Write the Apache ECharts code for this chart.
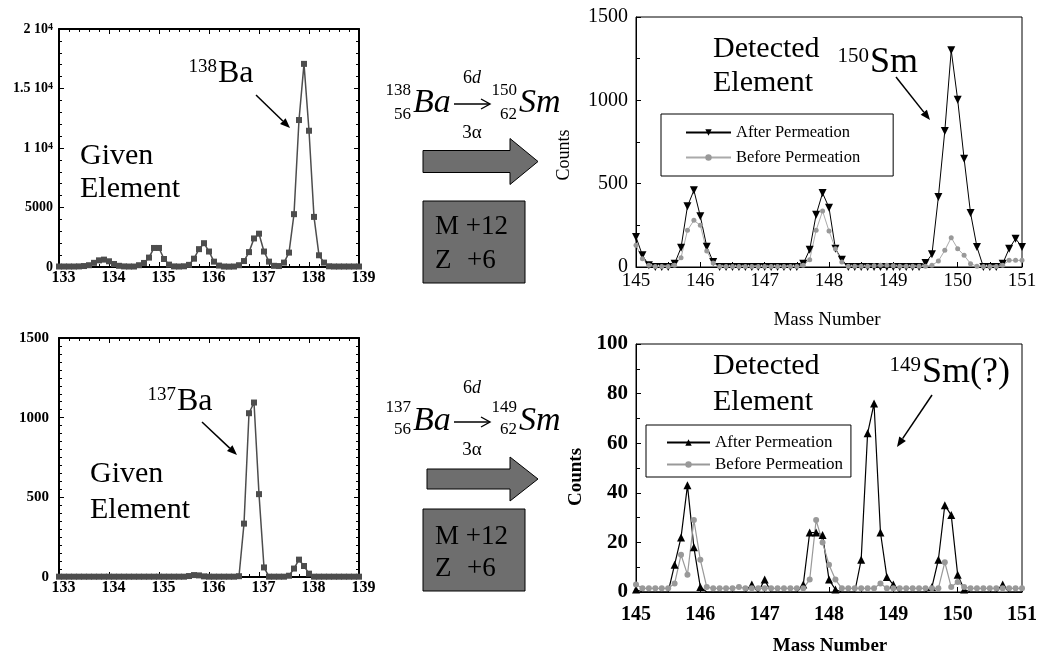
<!DOCTYPE html>
<html>
<head>
<meta charset="utf-8">
<script src="https://cdn.jsdelivr.net/npm/echarts@6/dist/echarts.min.js"></script>
<style>
  html, body { margin: 0; padding: 0; background: #fff; }
  #main { width: 1038px; height: 655px; }
</style>
</head>
<body>
<div id="main"></div>
<script>
// mass axis samples (0.1 u steps)
var massLeft = [133.0,133.1,133.2,133.3,133.4,133.5,133.6,133.7,133.8,133.9,134.0,134.1,134.2,134.3,134.4,134.5,134.6,134.7,134.8,134.9,
  135.0,135.1,135.2,135.3,135.4,135.5,135.6,135.7,135.8,135.9,136.0,136.1,136.2,136.3,136.4,136.5,136.6,136.7,136.8,136.9,
  137.0,137.1,137.2,137.3,137.4,137.5,137.6,137.7,137.8,137.9,138.0,138.1,138.2,138.3,138.4,138.5,138.6,138.7,138.8,138.9,139.0];
var massRight = [145.0,145.1,145.2,145.3,145.4,145.5,145.6,145.7,145.8,145.9,146.0,146.1,146.2,146.3,146.4,146.5,146.6,146.7,146.8,146.9,
  147.0,147.1,147.2,147.3,147.4,147.5,147.6,147.7,147.8,147.9,148.0,148.1,148.2,148.3,148.4,148.5,148.6,148.7,148.8,148.9,
  149.0,149.1,149.2,149.3,149.4,149.5,149.6,149.7,149.8,149.9,150.0,150.1,150.2,150.3,150.4,150.5,150.6,150.7,150.8,150.9,151.0];

// 138Ba (top left)
var counts138 = [40,40,40,40,50,80,150,350,560,620, 480,250,100,50,40,40,150,340,790,1600,
  1600,670,200,50,40,60,180,700,1500,2000, 1300,450,120,40,30,40,150,500,1250,2400,
  2800,1300,450,100,80,370,1210,4440,12350,17070, 11450,4210,985,370,60,40,40,40,40,40, 40];
// 137Ba (bottom left)
var counts137 = [2,2,2,2,2,2,2,2,2,2, 2,2,2,2,2,2,2,2,2,2,
  2,2,2,2,2,2,6,12,10,4, 2,2,2,2,2,2,5,335,1028,1095,
  520,60,2,2,2,2,8,53,109,69, 21,2,2,2,2,2,2,2,2,2, 2];
// 150Sm (top right)
var after150 = [180,70,10,0,0,0,20,116,364,460, 304,122,30,0,0,0,0,0,0,0,
  0,0,0,0,0,0,20,104,314,444, 356,110,44,0,0,0,0,0,0,0,
  0,0,0,0,0,24,76,420,816,1300, 1004,650,324,120,0,0,0,20,110,170, 120];
var before150 = [130,50,10,3,3,3,10,56,220,280, 250,96,24,3,3,3,3,3,3,3,
  3,3,3,3,3,3,10,44,220,336, 216,110,30,5,5,5,5,8,10,10,
  8,5,5,5,5,5,10,36,100,176, 110,70,20,5,3,3,3,10,40,40, 40];
// 149Sm (bottom right)
var after149 = [1,0,0,0,0,0,11,22,43,18, 2,0,0,0,0,0,0,0,3,0,
  5,0,0,0,0,0,3,24,24,23, 5,1,0,0,0,13,64,76,24,6,
  3,0,0,0,0,0,2,13,35,31, 7,1,0,0,0,0,0,3,0,0, 0];
var before149 = [3,1.5,1.5,1.5,1.5,1.5,3.4,15,7,29, 13,2,1.5,1.5,1.5,1.5,2,1.5,1.5,1.5,
  1.5,1.5,1.5,1.5,1.5,1.5,1.5,5,29,20, 11,5,1.5,1.5,1.5,1.5,1.5,1.5,3.4,1.5,
  1.5,1.5,1.5,1.5,1.5,1.5,1.5,1.5,12,2, 4,2,1.5,1.5,1.5,1.5,1.5,1.5,1.5,1.5, 1.5];

var yLabels138 = ['0', '5000', '1 10{s|4}', '1.5 10{s|4}', '2 10{s|4}'];
var legendNames = ['After Permeation', 'Before Permeation'];

var serif = "'Liberation Serif', 'Times New Roman', serif";

function pairs(xs, ys) {
    return xs.map(function (x, i) { return [x, ys[i]]; });
}

function plain(v) { return String(v); }

function leftX(grid, pos, showLabel) {
    return {
        gridIndex: grid, type: 'value', position: pos, min: 133, max: 139, interval: 1,
        axisLine: {show: true, onZero: false, lineStyle: {color: '#000', width: 2}},
        axisTick: {inside: true, length: 5, lineStyle: {color: '#000'}},
        minorTick: {show: true, splitNumber: 5, length: 3, lineStyle: {color: '#000'}},
        splitLine: {show: false},
        axisLabel: {show: showLabel, fontFamily: serif, fontWeight: 'bold', fontSize: 16, color: '#000',
            margin: 3, padding: [0, 0, 0, 9], formatter: plain}
    };
}

function leftY(grid, pos, max, step, minor, showLabel, fmt, size, margin) {
    return {
        gridIndex: grid, type: 'value', position: pos, min: 0, max: max, interval: step,
        axisLine: {show: true, onZero: false, lineStyle: {color: '#000', width: 2}},
        axisTick: {inside: true, length: 5, lineStyle: {color: '#000'}},
        minorTick: {show: true, splitNumber: minor, length: 3, lineStyle: {color: '#000'}},
        splitLine: {show: false},
        axisLabel: {show: showLabel, fontFamily: serif, fontWeight: 'bold', fontSize: size || 14, color: '#000',
            margin: margin || 6, formatter: fmt || plain,
            rich: {s: {fontFamily: serif, fontWeight: 'bold', fontSize: 10, verticalAlign: 'top', lineHeight: 10}}}
    };
}

function rightX(grid, bold, margin) {
    return {
        gridIndex: grid, type: 'value', min: 145, max: 151, interval: 1,
        axisLine: {show: true, onZero: false, lineStyle: {color: '#000', width: 1}},
        axisTick: {inside: true, length: 5, lineStyle: {color: '#000'}},
        minorTick: {show: true, splitNumber: 2, length: 5, lineStyle: {color: '#000'}},
        splitLine: {show: false},
        axisLabel: {fontFamily: serif, fontWeight: bold ? 'bold' : 'normal', fontSize: bold ? 20 : 19,
            color: '#000', margin: margin, formatter: plain}
    };
}

function rightY(grid, max, step, bold) {
    return {
        gridIndex: grid, type: 'value', min: 0, max: max, interval: step,
        axisLine: {show: true, onZero: false, lineStyle: {color: '#000', width: 1}},
        axisTick: {inside: true, length: 5, lineStyle: {color: '#000'}},
        minorTick: {show: true, splitNumber: 2, length: 4, lineStyle: {color: '#000'}},
        splitLine: {show: false},
        axisLabel: {fontFamily: serif, fontWeight: bold ? 'bold' : 'normal', fontSize: bold ? 21 : 20,
            color: '#000', margin: 8, formatter: plain}
    };
}

function txt(x, y, s, font, align) {
    return {type: 'text', x: x, y: y, z: 10,
        style: {text: s, font: font, fill: '#000', align: align || 'left', verticalAlign: 'middle'}};
}

function arrow(x1, y1, x2, y2) {
    var dx = x2 - x1, dy = y2 - y1, len = Math.sqrt(dx * dx + dy * dy);
    var ux = dx / len, uy = dy / len;
    var bx = x2 - ux * 10, by = y2 - uy * 10;
    return [
        {type: 'line', z: 10, shape: {x1: x1, y1: y1, x2: bx, y2: by}, style: {stroke: '#000', lineWidth: 1.5}},
        {type: 'polygon', z: 10, shape: {points: [[x2, y2], [bx - uy * 4, by + ux * 4], [bx + uy * 4, by - ux * 4]]},
            style: {fill: '#000'}}
    ];
}

function blockArrow(x0, xb, xt, yc, hb, hh) {
    return {type: 'polygon', z: 5,
        shape: {points: [[x0, yc - hb], [xb, yc - hb], [xb, yc - hh], [xt, yc], [xb, yc + hh], [xb, yc + hb], [x0, yc + hb]]},
        style: {fill: '#6e6e6e', stroke: '#000', lineWidth: 1}};
}

function reaction(m1, m2, ySup, ySub, yMain, yTop, yBot) {
    return [
        txt(411, ySup, m1, '17px ' + serif, 'right'),
        txt(411, ySub, '56', '17px ' + serif, 'right'),
        txt(413, yMain, 'Ba', 'italic 34px ' + serif),
        {type: 'line', z: 10, shape: {x1: 454, y1: yMain + 1, x2: 489, y2: yMain + 1}, style: {stroke: '#000', lineWidth: 1.4}},
        {type: 'polyline', z: 10, shape: {points: [[481, yMain - 4], [490, yMain + 1], [481, yMain + 6]]}, style: {stroke: '#000', lineWidth: 1.4, fill: null}},
        {type: 'text', x: 472, y: yTop, z: 10, style: {text: '6{i|d}', font: '18px ' + serif, fill: '#000', align: 'center', verticalAlign: 'middle',
            rich: {i: {fontStyle: 'italic', fontSize: 18, fontFamily: serif}}}},
        txt(472, yBot, '3α', '19px ' + serif, 'center'),
        txt(517, ySup, m2, '17px ' + serif, 'right'),
        txt(517, ySub, '62', '17px ' + serif, 'right'),
        txt(519, yMain, 'Sm', 'italic 34px ' + serif)
    ];
}

var graphics = [];
graphics = graphics.concat(reaction('138', '150', 91, 115, 103, 78, 133));
graphics = graphics.concat(reaction('137', '149', 408, 430, 421, 388, 450));
graphics.push(blockArrow(423, 510, 538, 161.5, 11, 23));
graphics.push(blockArrow(427, 510, 538, 479, 10, 22));
graphics.push({type: 'rect', z: 5, shape: {x: 423, y: 201, width: 102, height: 82}, style: {fill: '#6e6e6e', stroke: '#000', lineWidth: 1}});
graphics.push({type: 'rect', z: 5, shape: {x: 423, y: 509, width: 102, height: 82}, style: {fill: '#6e6e6e', stroke: '#000', lineWidth: 1}});
graphics.push(txt(435, 227, 'M +12', '27px ' + serif));
graphics.push(txt(435, 261, 'Z', '27px ' + serif));
graphics.push(txt(467, 261, '+6', '27px ' + serif));
graphics.push(txt(435, 537, 'M +12', '27px ' + serif));
graphics.push(txt(435, 569, 'Z', '27px ' + serif));
graphics.push(txt(467, 569, '+6', '27px ' + serif));

// panel annotations
graphics.push(txt(217, 67, '138', '19px ' + serif, 'right'));
graphics.push(txt(218, 74, 'Ba', '32px ' + serif));
graphics = graphics.concat(arrow(256, 95, 290, 128));
graphics.push(txt(80, 156, 'Given', '30px ' + serif));
graphics.push(txt(80, 189, 'Element', '30px ' + serif));

graphics.push(txt(176, 395, '137', '19px ' + serif, 'right'));
graphics.push(txt(177, 402, 'Ba', '32px ' + serif));
graphics = graphics.concat(arrow(202, 422, 237, 455));
graphics.push(txt(90, 474, 'Given', '30px ' + serif));
graphics.push(txt(90, 510, 'Element', '30px ' + serif));

graphics.push(txt(713, 49, 'Detected', '30px ' + serif));
graphics.push(txt(713, 83, 'Element', '30px ' + serif));
graphics.push(txt(869, 56, '150', '21px ' + serif, 'right'));
graphics.push(txt(870, 63, 'Sm', '36px ' + serif));
graphics = graphics.concat(arrow(896, 77, 930, 120));

graphics.push(txt(713, 366, 'Detected', '30px ' + serif));
graphics.push(txt(713, 402, 'Element', '30px ' + serif));
graphics.push(txt(921, 365, '149', '21px ' + serif, 'right'));
graphics.push(txt(922, 373, 'Sm(?)', '36px ' + serif));
graphics = graphics.concat(arrow(932, 395, 897, 447));

// axis titles
graphics.push({type: 'text', x: 564, y: 155, rotation: Math.PI / 2, z: 10,
    style: {text: 'Counts', font: '18px ' + serif, fill: '#000', align: 'center', verticalAlign: 'middle'}});
graphics.push(txt(827, 320, 'Mass Number', '19px ' + serif, 'center'));
graphics.push({type: 'text', x: 576, y: 477, rotation: Math.PI / 2, z: 10,
    style: {text: 'Counts', font: 'bold 19px ' + serif, fill: '#000', align: 'center', verticalAlign: 'middle'}});
graphics.push(txt(830, 646, 'Mass Number', 'bold 19px ' + serif, 'center'));

var option = {
    animation: false,
    backgroundColor: '#fff',
    grid: [
        {left: 59, top: 29, width: 300, height: 238, outerBoundsMode: 'none'},
        {left: 59, top: 338, width: 300, height: 239, outerBoundsMode: 'none'},
        {left: 636, top: 17, width: 386, height: 250, show: true, borderColor: '#000', borderWidth: 1, outerBoundsMode: 'none'},
        {left: 636, top: 344, width: 386, height: 248, show: true, borderColor: '#000', borderWidth: 1, outerBoundsMode: 'none'}
    ],
    xAxis: [
        leftX(0, 'bottom', true),
        leftX(1, 'bottom', true),
        rightX(2, false, 5),
        rightX(3, true, 13),
        leftX(0, 'top', false),
        leftX(1, 'top', false)
    ],
    yAxis: [
        leftY(0, 'left', 20000, 5000, 5, true, function (v) { return yLabels138[Math.round(v / 5000)]; }, 14, 6),
        leftY(1, 'left', 1500, 500, 10, true, null, 15, 10),
        rightY(2, 1500, 500, false),
        rightY(3, 100, 20, true),
        leftY(0, 'right', 20000, 5000, 5, false, null),
        leftY(1, 'right', 1500, 500, 10, false, null)
    ],
    legend: [
        {left: 661, top: 114, orient: 'vertical', data: legendNames, selectedMode: false,
            padding: [10, 33, 10, 24], itemGap: 8, itemWidth: 45, itemHeight: 8,
            backgroundColor: '#fff', borderColor: '#000', borderWidth: 1, borderRadius: 0,
            textStyle: {fontFamily: serif, fontSize: 16.5, color: '#000'}},
        {left: 646, top: 425, orient: 'vertical', data: legendNames.map(function (n) { return n + ' '; }), selectedMode: false,
            padding: [9, 8, 4, 20], itemGap: 5, itemWidth: 43, itemHeight: 8,
            backgroundColor: '#fff', borderColor: '#000', borderWidth: 1, borderRadius: 0,
            formatter: function (n) { return n.trim(); },
            textStyle: {fontFamily: serif, fontSize: 17, color: '#000'}}
    ],
    graphic: graphics,
    series: [
        {type: 'line', name: '138Ba', xAxisIndex: 0, yAxisIndex: 0, data: pairs(massLeft, counts138),
            symbol: 'rect', symbolSize: 6, showAllSymbol: true,
            itemStyle: {color: '#4d4d4d'}, lineStyle: {color: '#4d4d4d', width: 1.5}},
        {type: 'line', name: '137Ba', xAxisIndex: 1, yAxisIndex: 1, data: pairs(massLeft, counts137),
            symbol: 'rect', symbolSize: 6, showAllSymbol: true,
            itemStyle: {color: '#4d4d4d'}, lineStyle: {color: '#4d4d4d', width: 1.5}},
        {type: 'line', name: legendNames[0], xAxisIndex: 2, yAxisIndex: 2, data: pairs(massRight, after150),
            symbol: 'triangle', symbolRotate: 180, symbolSize: 8, showAllSymbol: true,
            itemStyle: {color: '#000'}, lineStyle: {color: '#000', width: 1}},
        {type: 'line', name: legendNames[1], xAxisIndex: 2, yAxisIndex: 2, data: pairs(massRight, before150),
            symbol: 'circle', symbolSize: 5, showAllSymbol: true,
            itemStyle: {color: '#999'}, lineStyle: {color: '#aaa', width: 1}},
        {type: 'line', name: legendNames[0] + ' ', xAxisIndex: 3, yAxisIndex: 3, data: pairs(massRight, after149),
            symbol: 'triangle', showAllSymbol: true,
            symbolSize: function (v) { return v[1] > 0 ? 8 : 0; },
            itemStyle: {color: '#000'}, lineStyle: {color: '#000', width: 1.2}},
        {type: 'line', name: legendNames[1] + ' ', xAxisIndex: 3, yAxisIndex: 3, data: pairs(massRight, before149),
            symbol: 'circle', symbolSize: 6, showAllSymbol: true,
            itemStyle: {color: '#999'}, lineStyle: {color: '#999', width: 1.2}}
    ]
};

var chart = echarts.init(document.getElementById('main'));
chart.setOption(option);
</script>
</body>
</html>
